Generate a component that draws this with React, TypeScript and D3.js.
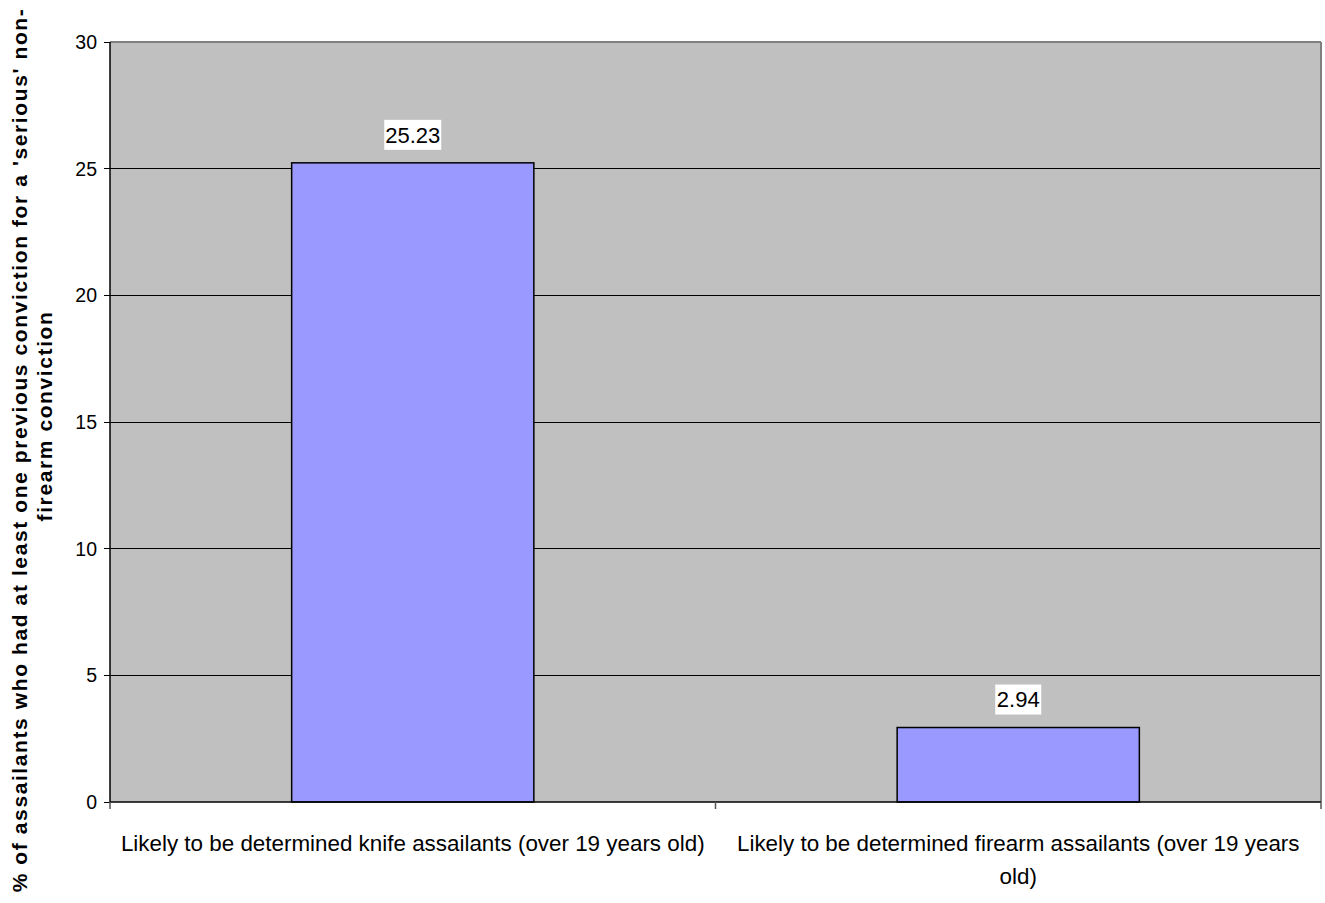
import React from "react";
import * as d3 from "d3";

const categories = [
  ["Likely to be determined knife assailants (over 19 years old)"],
  ["Likely to be determined firearm assailants (over 19 years", "old)"],
];
const values = [25.23, 2.94];
const valueLabels = ["25.23", "2.94"];
const yTicks = [0, 5, 10, 15, 20, 25, 30];
const yTitle = [
  "% of assailants who had at least one previous conviction for a 'serious' non-",
  "firearm conviction",
];

const W = 1325, H = 903;
const L = 110, R = 1321, T = 42, B = 802;
const font = "'Liberation Sans', Arial, sans-serif";

export default function App() {
  const y = d3.scaleLinear().domain([0, 30]).range([B, T]);
  const x = d3.scaleBand<number>().domain(d3.range(categories.length)).range([L, R]).padding(0);
  const bw = x.bandwidth();
  const barW = bw * 0.4;
  return (
    <svg width={W} height={H} style={{ position: "absolute", left: 0, top: 0 }}>
      <rect x={0} y={0} width={W} height={H} fill="#fff" />
      <rect x={L} y={T} width={R - L} height={B - T} fill="#C0C0C0" />
      {yTicks.map((t) => (
        <g key={t}>
          {t > 0 && t < 30 && (
            <line x1={L} x2={R} y1={y(t)} y2={y(t)} stroke="#000" strokeWidth={1} shapeRendering="crispEdges" />
          )}
          <line x1={L - 6} x2={L} y1={y(t)} y2={y(t)} stroke="#000" shapeRendering="crispEdges" />
          <text x={97} y={y(t)} dy="0.36em" textAnchor="end" fontFamily={font} fontSize={19.5} fill="#000">
            {t}
          </text>
        </g>
      ))}
      <line x1={L} x2={R} y1={T} y2={T} stroke="#808080" strokeWidth={2} />
      <line x1={R} x2={R} y1={T} y2={B} stroke="#808080" strokeWidth={2} />
      {values.map((v, i) => {
        const cx = (x(i) as number) + bw / 2;
        const tw = valueLabels[i].length * 11 + 2;
        return (
          <g key={i}>
            <rect x={cx - barW / 2} y={y(v)} width={barW} height={B - y(v)} fill="#9999FF" stroke="#000" strokeWidth={1.5} />
            <rect x={cx - tw / 2} y={y(v) - 43} width={tw} height={30} fill="#fff" />
            <text x={cx} y={y(v) - 28} dy="0.36em" textAnchor="middle" fontFamily={font} fontSize={22} fill="#000">
              {valueLabels[i]}
            </text>
          </g>
        );
      })}
      <line x1={L} x2={L} y1={T} y2={B} stroke="#000" strokeWidth={1.5} />
      <line x1={L} x2={R} y1={B} y2={B} stroke="#000" strokeWidth={1.5} />
      {d3.range(categories.length + 1).map((i) => {
        const xx = L + bw * i;
        return <line key={i} x1={xx} x2={xx} y1={B} y2={B + 7} stroke="#555" strokeWidth={1.5} />;
      })}
      {categories.map((lines, i) => {
        const cx = (x(i) as number) + bw / 2;
        return (
          <text key={i} textAnchor="middle" fontFamily={font} fontSize={22.4} fill="#000">
            {lines.map((ln, j) => (
              <tspan key={j} x={cx} y={851 + j * 33}>
                {ln}
              </tspan>
            ))}
          </text>
        );
      })}
      <text transform="rotate(-90)" textAnchor="middle" fontFamily={font} fontSize={21} fontWeight="bold" letterSpacing={1.6} fill="#000">
        <tspan x={-450} y={27}>{yTitle[0]}</tspan>
        <tspan x={-416} y={52}>{yTitle[1]}</tspan>
      </text>
    </svg>
  );
}
